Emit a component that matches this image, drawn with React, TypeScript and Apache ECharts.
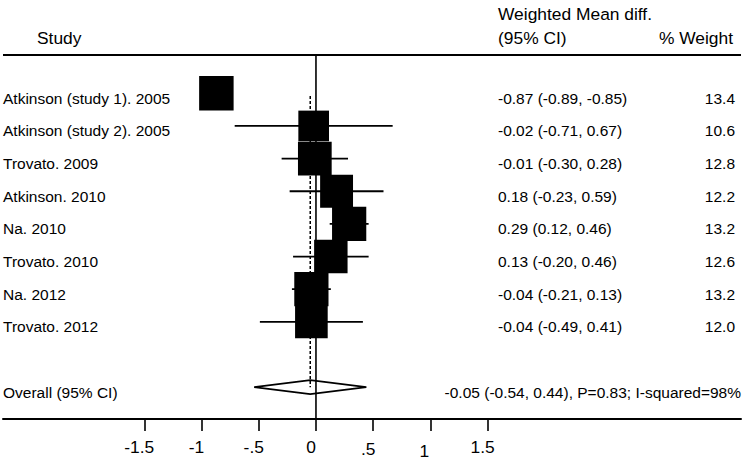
import React, { useEffect, useRef } from "react";
import * as echarts from "echarts";

// ---- data ----
const studies = [
  "Atkinson (study 1). 2005",
  "Atkinson (study 2). 2005",
  "Trovato. 2009",
  "Atkinson. 2010",
  "Na. 2010",
  "Trovato. 2010",
  "Na. 2012",
  "Trovato. 2012",
];
const estimates = [-0.87, -0.02, -0.01, 0.18, 0.29, 0.13, -0.04, -0.04];
const lowerCI = [-0.89, -0.71, -0.3, -0.23, 0.12, -0.2, -0.21, -0.49];
const upperCI = [-0.85, 0.67, 0.28, 0.59, 0.46, 0.46, 0.13, 0.41];
const weights = [13.4, 10.6, 12.8, 12.2, 13.2, 12.6, 13.2, 12.0];
const overallLabel = "Overall (95% CI)";
const overallEstimate = -0.05;
const overallLower = -0.54;
const overallUpper = 0.44;
const overallStats = "P=0.83; I-squared=98%";
const tickValues = [-1.5, -1, -0.5, 0, 0.5, 1, 1.5];
const tickLabels = ["-1.5", "-1", "-.5", "0", ".5", "1", "1.5"];
const headerStudy = "Study";
const headerEffect1 = "Weighted Mean diff.";
const headerEffect2 = "(95% CI)";
const headerWeight = "% Weight";

const studyRows = studies.map((_, i) => i);
const overallRow = 9;

// ---- layout ----
const FONT = '"Liberation Sans", Arial, Helvetica, sans-serif';
const W = 744;
const H = 461;
const X_MIN = -2.734;
const X_MAX = 3.713;
const Y_MIN = -1.173;
const Y_MAX = 9.975;
const BOX_K = 9.42;
const LABEL_X = 3;
const EFFECT_X = 498;
const WEIGHT_X = 735;
const STATS_RIGHT = 741;
const TEXT_DY = 5;
const FS = 15.5;
const HFS = 17.4;

const fmt2 = (v: number) => v.toFixed(2);

function App() {
  const ref = useRef<HTMLDivElement>(null);

  useEffect(() => {
    if (!ref.current) return;
    const chart = echarts.init(ref.current, null, { renderer: "svg" });

    const studyData = studyRows.map((r, i) => [
      estimates[i],
      r,
      lowerCI[i],
      upperCI[i],
      weights[i],
    ]);

    const textData: any[] = studyRows.map((r, i) => [
      0,
      r,
      studies[i],
      `${fmt2(estimates[i])} (${fmt2(lowerCI[i])}, ${fmt2(upperCI[i])})`,
      weights[i].toFixed(1),
    ]);
    textData.push([
      0,
      overallRow,
      overallLabel,
      `${fmt2(overallEstimate)} (${fmt2(overallLower)}, ${fmt2(overallUpper)}), ${overallStats}`,
      "",
    ]);

    const textStyle = (text: string, align: string, size = FS) => ({
      text,
      fill: "#000",
      fontSize: size,
      fontFamily: FONT,
      align,
      verticalAlign: "middle",
    });

    const labelMap: Record<string, string> = {};
    tickValues.forEach((v, i) => (labelMap[String(v)] = tickLabels[i]));

    const option: any = {
      animation: false,
      backgroundColor: "#fff",
      grid: { left: 3, right: W - 741, top: 55, bottom: H - 419, containLabel: false },
      xAxis: {
        type: "value",
        min: X_MIN,
        max: X_MAX,
        splitLine: { show: false },
        axisLine: { show: true, onZero: false, lineStyle: { color: "#000", width: 2 } },
        axisTick: {
          show: true,
          customValues: tickValues,
          length: 12,
          lineStyle: { color: "#000", width: 1.6 },
        },
        axisLabel: {
          customValues: tickValues,
          margin: 19,
          padding: [0, 10, 0, 0],
          color: "#000",
          fontSize: HFS,
          fontFamily: FONT,
          formatter: (v: number) => {
            const t = labelMap[String(v)] ?? String(v);
            if (v === 0.5) return `{d|${t}}`;
            if (v === 1) return `{e|${t}}`;
            return t;
          },
          rich: {
            d: { padding: [2, 0, 0, 0], fontSize: HFS, fontFamily: FONT, color: "#000" },
            e: { padding: [4, 2, 0, 0], fontSize: HFS, fontFamily: FONT, color: "#000" },
          },
        },
      },
      yAxis: {
        type: "value",
        inverse: true,
        min: Y_MIN,
        max: Y_MAX,
        show: false,
      },
      graphic: [
        {
          type: "line",
          shape: { x1: 3, y1: 55, x2: 741, y2: 55 },
          style: { stroke: "#000", lineWidth: 2 },
        },
        { type: "text", x: 37, y: 38, style: textStyle(headerStudy, "left", HFS) },
        { type: "text", x: EFFECT_X, y: 14, style: textStyle(headerEffect1, "left", HFS) },
        { type: "text", x: EFFECT_X, y: 38, style: textStyle(headerEffect2, "left", HFS) },
        { type: "text", x: 733, y: 38, style: textStyle(headerWeight, "right", HFS) },
      ],
      series: [
        // reference lines: zero line and overall dashed line
        {
          type: "custom",
          silent: true,
          data: [
            [0, Y_MIN, Y_MAX, 0],
            [overallEstimate, 0.08, overallRow, 1],
          ],
          encode: { x: 0, y: [1, 2] },
          renderItem: (params: any, api: any) => {
            const x = api.value(0);
            const p1 = api.coord([x, api.value(1)]);
            const p2 = api.coord([x, api.value(2)]);
            const dashed = api.value(3) === 1;
            return {
              type: "line",
              shape: { x1: p1[0], y1: p1[1], x2: p2[0], y2: p2[1] },
              style: {
                stroke: "#000",
                lineWidth: dashed ? 1.5 : 1.6,
                lineDash: dashed ? [3, 2] : null,
              },
            };
          },
        },
        // study boxes and CIs
        {
          type: "custom",
          silent: true,
          data: studyData,
          encode: { x: [0, 2, 3], y: 1 },
          renderItem: (params: any, api: any) => {
            const r = api.value(1);
            const c = api.coord([api.value(0), r]);
            const lo = api.coord([api.value(2), r]);
            const hi = api.coord([api.value(3), r]);
            const s = BOX_K * Math.sqrt(api.value(4));
            return {
              type: "group",
              children: [
                {
                  type: "line",
                  shape: { x1: lo[0], y1: lo[1], x2: hi[0], y2: hi[1] },
                  style: { stroke: "#000", lineWidth: 1.8 },
                },
                {
                  type: "rect",
                  shape: { x: c[0] - s / 2, y: c[1] - s / 2, width: s, height: s },
                  style: { fill: "#000" },
                },
              ],
            };
          },
        },
        // overall diamond
        {
          type: "custom",
          silent: true,
          data: [[overallEstimate, overallRow, overallLower, overallUpper]],
          encode: { x: [0, 2, 3], y: 1 },
          renderItem: (params: any, api: any) => {
            const r = api.value(1);
            const c = api.coord([api.value(0), r]);
            const lo = api.coord([api.value(2), r]);
            const hi = api.coord([api.value(3), r]);
            const h = 7;
            return {
              type: "polygon",
              shape: {
                points: [
                  [lo[0], lo[1]],
                  [c[0], c[1] - h],
                  [hi[0], hi[1]],
                  [c[0], c[1] + h],
                ],
              },
              style: { fill: "none", stroke: "#000", lineWidth: 1.7 },
            };
          },
        },
        // row texts
        {
          type: "custom",
          silent: true,
          data: textData,
          encode: { x: 0, y: 1 },
          renderItem: (params: any, api: any) => {
            const r = api.value(1);
            const y = api.coord([0, r])[1] + TEXT_DY;
            const isOverall = r === overallRow;
            const d = textData[params.dataIndex];
            const children: any[] = [
              { type: "text", x: LABEL_X, y, style: textStyle(String(d[2]), "left") },
            ];
            if (isOverall) {
              children.push({
                type: "text",
                x: STATS_RIGHT,
                y,
                style: textStyle(String(d[3]), "right"),
              });
            } else {
              children.push({
                type: "text",
                x: EFFECT_X,
                y,
                style: textStyle(String(d[3]), "left"),
              });
              children.push({
                type: "text",
                x: WEIGHT_X,
                y,
                style: textStyle(String(d[4]), "right"),
              });
            }
            return { type: "group", children };
          },
        },
      ],
    };

    chart.setOption(option);
    return () => chart.dispose();
  }, []);

  return (
    <div
      ref={ref}
      style={{ position: "fixed", left: 0, top: 0, width: W, height: H, background: "#fff" }}
    />
  );
}

export default App;
